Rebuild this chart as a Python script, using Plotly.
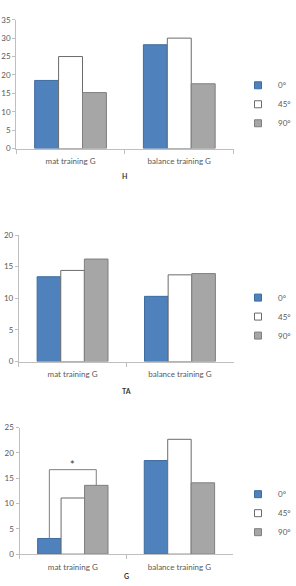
import plotly.graph_objects as go

categories = ["mat training G", "balance training G"]
series_names = ["0°", "45°", "90°"]

# panel H
h_0 = [18.5, 28.2]
h_45 = [25.0, 30.0]
h_90 = [15.2, 17.6]
# panel TA
ta_0 = [13.4, 10.3]
ta_45 = [14.4, 13.7]
ta_90 = [16.2, 13.9]
# panel G
g_0 = [3.1, 18.5]
g_45 = [11.1, 22.7]
g_90 = [13.6, 14.1]
g_bracket_level = 16.7

panel_titles = ["H", "TA", "G"]
y_maxes = [35, 20, 25]

W, H = 296, 586
fills = ["#4F81BD", "#FFFFFF", "#A6A6A6"]
outlines = ["#3E6C9F", "#6B6B6B", "#7F7F7F"]
FONT = "Lato"
GREY = "#595959"
AXC = "#BFBFBF"
BARGAP = 0.34

panels = [
    dict(vals=[h_0, h_45, h_90], px=(18, 260), py=(146, 15)),
    dict(vals=[ta_0, ta_45, ta_90], px=(21, 260), py=(362.7, 234)),
    dict(vals=[g_0, g_45, g_90], px=(21.7, 259), py=(558.7, 430)),
]
legend_mids = [101, 317, 517]
title_y = [174, 393, 586]

fig = go.Figure()
for p_i, p in enumerate(panels):
    sfx = "" if p_i == 0 else str(p_i + 1)
    for s_i, name in enumerate(series_names):
        fig.add_trace(go.Bar(
            x=categories, y=p["vals"][s_i], name=name,
            marker=dict(color=fills[s_i], line=dict(color=outlines[s_i], width=1)),
            xaxis="x" + sfx, yaxis="y" + sfx, showlegend=False,
        ))
        fig.add_trace(go.Scatter(
            x=[None], y=[None], mode="markers", name=name,
            marker=dict(symbol="square", size=7, color=fills[s_i],
                        line=dict(color=outlines[s_i], width=1)),
            xaxis="x" + sfx, yaxis="y" + sfx,
            legend="legend" + sfx, showlegend=True,
        ))
    fig.layout["xaxis" + sfx] = dict(
        domain=[p["px"][0] / W, p["px"][1] / W], anchor="y" + sfx,
        type="category", showline=True, linecolor=AXC, linewidth=1,
        ticks="outside", tickson="boundaries", ticklen=4, tickcolor=AXC,
        tickfont=dict(family=FONT, size=8, color=GREY), ticklabelstandoff=5,
        showgrid=False, zeroline=False, fixedrange=True,
    )
    fig.layout["yaxis" + sfx] = dict(
        domain=[1 - p["py"][0] / H, 1 - p["py"][1] / H], anchor="x" + sfx,
        range=[0, y_maxes[p_i]], dtick=5, showline=True, linecolor=AXC,
        linewidth=1, ticks="outside", ticklen=3, tickcolor=AXC,
        tickfont=dict(family=FONT, size=8, color=GREY),
        showgrid=False, zeroline=False, fixedrange=True,
    )
    fig.layout["legend" + sfx] = dict(
        x=265 / W, y=1 - legend_mids[p_i] / H, xanchor="left", yanchor="middle",
        font=dict(family=FONT, size=8, color=GREY), bgcolor="rgba(0,0,0,0)",
        itemwidth=30, tracegroupgap=0,
    )
    fig.add_annotation(
        x=(p["px"][0] + p["px"][1]) / 2 / W, y=1 - title_y[p_i] / H,
        xref="paper", yref="paper", text="<b>" + panel_titles[p_i] + "</b>",
        showarrow=False, font=dict(family=FONT, size=7, color="#333333"),
        yanchor="middle" if p_i < 2 else "bottom", borderpad=0,
    )

# significance bracket on G panel, between 0° and 90° bars of first group
bw = (1 - BARGAP) / 3
left_x, right_x = 0 - bw, 0 + bw
bc = "#7F7F7F"
fig.add_shape(type="line", xref="x3", yref="y3", x0=left_x, x1=left_x,
              y0=g_0[0], y1=g_bracket_level, line=dict(color=bc, width=1))
fig.add_shape(type="line", xref="x3", yref="y3", x0=right_x, x1=right_x,
              y0=g_90[0], y1=g_bracket_level, line=dict(color=bc, width=1))
fig.add_shape(type="line", xref="x3", yref="y3", x0=left_x, x1=right_x,
              y0=g_bracket_level, y1=g_bracket_level, line=dict(color=bc, width=1))
fig.add_annotation(x=0, y=g_bracket_level, xref="x3", yref="y3", text="*",
                   showarrow=False, yanchor="bottom", yshift=-3,
                   font=dict(family=FONT, size=11, color="#333333"))

fig.update_layout(
    width=W, height=H, margin=dict(l=0, r=0, t=0, b=0),
    barmode="group", bargap=BARGAP, bargroupgap=0,
    paper_bgcolor="white", plot_bgcolor="white", showlegend=True,
)
fig.write_html("out.html")
